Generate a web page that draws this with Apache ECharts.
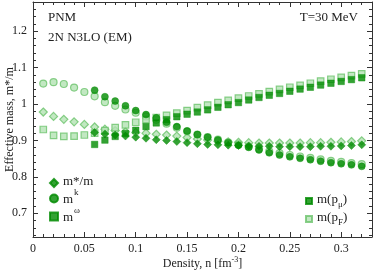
<!DOCTYPE html>
<html><head><meta charset="utf-8">
<script src="https://cdn.jsdelivr.net/npm/echarts@6/dist/echarts.min.js"></script>
<style>html,body{margin:0;padding:0;background:#fff}#c{width:374px;height:273px}</style>
</head><body><div id="c"></div>
<script>
// ---- data ----
const densityAll = [0.01,0.02,0.03,0.04,0.05,0.06,0.07,0.08,0.09,0.10,0.11,0.12,0.13,0.14,0.15,0.16,0.17,0.18,0.19,0.20,0.21,0.22,0.23,0.24,0.25,0.26,0.27,0.28,0.29,0.30,0.31,0.32];
const densityHigh = [0.06,0.07,0.08,0.09,0.10,0.11,0.12,0.13,0.14,0.15,0.16,0.17,0.18,0.19,0.20,0.21,0.22,0.23,0.24,0.25,0.26,0.27,0.28,0.29,0.30,0.31,0.32];
// m*/m  (diamonds)
const mStarPmu = [0.922,0.918,0.915,0.912,0.909,0.906,0.902,0.900,0.897,0.894,0.891,0.889,0.888,0.887,0.886,0.885,0.884,0.884,0.883,0.883,0.883,0.883,0.884,0.884,0.885,0.886,0.888];
const mStarPF = [0.978,0.966,0.958,0.951,0.944,0.937,0.931,0.927,0.924,0.922,0.920,0.917,0.915,0.912,0.908,0.904,0.901,0.898,0.896,0.895,0.894,0.893,0.893,0.893,0.893,0.893,0.894,0.894,0.895,0.896,0.897,0.899];
// m^k (circles)
const mkPmu = [1.038,1.020,1.008,0.995,0.982,0.971,0.962,0.950,0.938,0.926,0.916,0.909,0.901,0.894,0.887,0.881,0.874,0.866,0.860,0.855,0.851,0.847,0.843,0.839,0.836,0.833,0.829];
const mkPF = [1.056,1.060,1.055,1.045,1.033,1.021,1.005,0.995,0.985,0.976,0.966,0.957,0.946,0.935,0.925,0.916,0.909,0.902,0.895,0.889,0.883,0.877,0.870,0.865,0.860,0.856,0.852,0.848,0.844,0.841,0.838,0.835];
// m^omega (squares)
const mwPmu = [0.889,0.901,0.911,0.919,0.928,0.938,0.948,0.957,0.965,0.972,0.978,0.984,0.991,0.998,1.004,1.011,1.018,1.024,1.029,1.035,1.041,1.046,1.052,1.057,1.062,1.067,1.072];
const mwPF = [0.930,0.914,0.911,0.912,0.915,0.920,0.927,0.935,0.943,0.950,0.957,0.963,0.969,0.975,0.982,0.990,0.997,1.004,1.010,1.016,1.022,1.028,1.034,1.040,1.046,1.051,1.057,1.063,1.068,1.073,1.078,1.083];
const xTickLabels = [0,0.05,0.1,0.15,0.2,0.25,0.3];
const yTickLabels = [0.7,0.8,0.9,1.0,1.1,1.2];

// ---- styling ----
const FONT = 'Liberation Serif';
const DARK = '#008b00';
const LIGHT_FILL = '#b3e2b3';
const LIGHT_EDGE = '#6cc36c';
const AX = '#333';
const xMinor = []; for (let i = 0; i <= 33; i++) xMinor.push(+(i*0.01).toFixed(2));
const yMinor = []; for (let i = 32; i <= 64; i++) yMinor.push(+(i*0.02).toFixed(2));

const pair = (xs, ys) => xs.map((x, i) => [x, ys[i]]);

function xAx(pos, vals, len, labels, line) {
  return {type:'value', position:pos, min:0, max:0.33,
    axisLine:{show:line, onZero:false, lineStyle:{color:AX, width:1}},
    axisTick:{show:true, inside:true, length:len, customValues:vals, lineStyle:{color:AX}},
    axisLabel:{show:labels, customValues:vals, color:'#222', fontFamily:FONT, fontSize:12, margin:6,
      formatter:v=>String(+(+v).toFixed(2))},
    splitLine:{show:false},
    name: labels ? '{a|Density, n [fm}{s|-3}{a|]}' : '', nameLocation:'middle', nameGap:19, nameMoveOverlap:false,
    nameTextStyle:{rich:{a:{fontFamily:FONT,fontSize:12,color:'#222',verticalAlign:'bottom',padding:[0,0,0,0]},
                          s:{fontFamily:FONT,fontSize:8,color:'#222',verticalAlign:'bottom',padding:[0,0,6,0]}}}};
}
function yAx(pos, vals, len, labels, line) {
  return {type:'value', position:pos, min:0.635, max:1.28,
    axisLine:{show:line, onZero:false, lineStyle:{color:AX, width:1}},
    axisTick:{show:true, inside:true, length:len, customValues:vals, lineStyle:{color:AX}},
    axisLabel:{show:labels, customValues:vals, color:'#222', fontFamily:FONT, fontSize:12, margin:6,
      formatter:v=>String(+(+v).toFixed(2))},
    splitLine:{show:false},
    name: labels ? 'Effective mass, m*/m' : '', nameLocation:'middle', nameGap:17, nameMoveOverlap:false,
    nameTextStyle:{fontFamily:FONT, fontSize:12, color:'#222'}};
}

const darkStyle = {color:DARK, borderColor:DARK, borderWidth:0.5};
const lightStyle = {color:LIGHT_FILL, borderColor:LIGHT_EDGE, borderWidth:1.2};

const rich = {
  b:{fontFamily:FONT, fontSize:13, color:'#222', verticalAlign:'bottom', padding:[0,0,3,0]},
  sup:{fontFamily:FONT, fontSize:9, color:'#222', verticalAlign:'bottom', padding:[0,0,12,1]},
  sub:{fontFamily:FONT, fontSize:9, color:'#222', verticalAlign:'bottom', padding:[0,0,0,0]}
};
const labelMap = {
  'm*/m':'{b|m*/m}',
  'mk':'{b|m}{sup|k}',
  'mω':'{b|m}{sup|ω}',
  'm(pμ)':'{b|m(p}{sub|μ}{b|)}',
  'm(pF)':'{b|m(p}{sub|F}{b|)}'
};
const titleStyle = {fontFamily:FONT, fontSize:13, fontWeight:'normal', color:'#222'};

const option = {
  animation:false,
  textStyle:{fontFamily:FONT},
  title:[
    {text:'PNM', left:48, top:11, padding:0, textStyle:titleStyle},
    {text:'2N N3LO (EM)', left:48, top:31, padding:0, textStyle:titleStyle},
    {text:'T=30 MeV', right:16, top:11, padding:0, textStyle:titleStyle}
  ],
  grid:{left:33, right:2, top:2, bottom:36, outerBoundsMode:'none', containLabel:false},
  xAxis:[
    xAx('bottom', xTickLabels, 5, true, true),
    xAx('bottom', xMinor, 3, false, false),
    xAx('top', xTickLabels, 5, false, true),
    xAx('top', xMinor, 3, false, false)
  ],
  yAxis:[
    yAx('left', yTickLabels, 5, true, true),
    yAx('left', yMinor, 3, false, false),
    yAx('right', yTickLabels, 5, false, true),
    yAx('right', yMinor, 3, false, false)
  ],
  legend:[
    {orient:'vertical', left:49, top:175, padding:0, itemGap:0, itemWidth:8, itemHeight:8,
     data:[{name:'m*/m', icon:'diamond'},{name:'mk', icon:'circle'},{name:'mω', icon:'rect'}],
     formatter:n=>labelMap[n], textStyle:{rich:rich}, selectedMode:false},
    {orient:'vertical', left:305, top:193, padding:0, itemGap:2, itemWidth:6, itemHeight:6,
     data:[{name:'m(pμ)', icon:'rect'},{name:'m(pF)', icon:'rect'}],
     formatter:n=>labelMap[n], textStyle:{rich:rich}, selectedMode:false}
  ],
  series:[
    {name:'m*/m light', type:'scatter', data:pair(densityAll, mStarPF), symbol:'diamond', symbolSize:8, itemStyle:lightStyle, z:2},
    {name:'mk light', type:'scatter', data:pair(densityAll, mkPF), symbol:'circle', symbolSize:7, itemStyle:lightStyle, z:2},
    {name:'mω light', type:'scatter', data:pair(densityAll, mwPF), symbol:'rect', symbolSize:6.5, itemStyle:lightStyle, z:2},
    {name:'m*/m', type:'scatter', data:pair(densityHigh, mStarPmu), symbol:'diamond', symbolSize:8, itemStyle:darkStyle, z:3},
    {name:'mk', type:'scatter', data:pair(densityHigh, mkPmu), symbol:'circle', symbolSize:7, itemStyle:darkStyle, z:3},
    {name:'mω', type:'scatter', data:pair(densityHigh, mwPmu), symbol:'rect', symbolSize:6.5, itemStyle:darkStyle, z:3},
    {name:'m(pμ)', type:'scatter', data:[], symbol:'rect', itemStyle:darkStyle},
    {name:'m(pF)', type:'scatter', data:[], symbol:'rect', itemStyle:lightStyle}
  ]
};
echarts.init(document.getElementById('c'), null, {renderer:'canvas'}).setOption(option);
</script></body></html>
